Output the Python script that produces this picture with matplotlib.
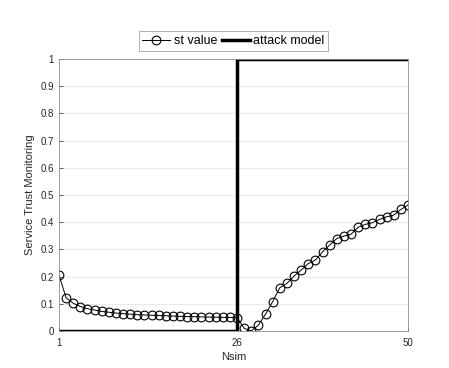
import numpy as np
import matplotlib
matplotlib.use('Agg')
from matplotlib import pyplot as plt

plt.rcParams['font.family'] = ['Liberation Sans', 'DejaVu Sans']

nsim = np.arange(1, 51)
st_value = [0.206, 0.122, 0.102, 0.090, 0.082, 0.077, 0.072, 0.069, 0.066, 0.064,
            0.062, 0.060, 0.059, 0.058, 0.057, 0.056, 0.055, 0.054, 0.053, 0.053,
            0.052, 0.051, 0.051, 0.050, 0.050, 0.049, 0.010, 0.000, 0.022, 0.062,
            0.108, 0.159, 0.175, 0.202, 0.224, 0.248, 0.261, 0.291, 0.316, 0.340,
            0.349, 0.356, 0.381, 0.392, 0.398, 0.410, 0.420, 0.426, 0.447, 0.463]
attack_x = [1, 26, 26, 50]
attack_y = [0, 0, 1, 1]
xticks = [1, 26, 50]
yticks = [0, 0.1, 0.2, 0.3, 0.4, 0.5, 0.6, 0.7, 0.8, 0.9, 1]
ytick_labels = ['0', '0.1', '0.2', '0.3', '0.4', '0.5', '0.6', '0.7', '0.8', '0.9', '1']

fig = plt.figure(figsize=(4.49, 3.68), dpi=100)
ax = fig.add_axes([59/449, 37/368, 349/449, 272/368])

ax.plot(nsim, st_value, '-o', color='black', lw=0.7, markersize=6.3,
        markerfacecolor='none', markeredgewidth=0.8, label='st value')
ax.plot(attack_x, attack_y, color='black', lw=2.5, label='attack model')

ax.set_xlim(1, 50)
ax.set_ylim(0, 1)
ax.set_xticks(xticks)
ax.set_yticks(yticks)
ax.set_yticklabels(ytick_labels)
ax.tick_params(direction='in', labelsize=7, colors='#262626', length=3, width=0.5)
ax.tick_params(axis='x', pad=5)
ax.yaxis.grid(True, color='#e6e6e6', lw=0.6)
ax.set_axisbelow(True)
for s in ax.spines.values():
    s.set_color('#8c8c8c')
    s.set_linewidth(0.6)

ax.set_xlabel('Nsim', fontsize=8, color='#262626', labelpad=3)
ax.set_ylabel('Service Trust Monitoring', fontsize=8, color='#262626', labelpad=4)

leg = ax.legend(loc='lower center', bbox_to_anchor=(0.5, 1.03), ncol=2, fontsize=9,
                frameon=True, fancybox=False, edgecolor='#8c8c8c', handlelength=2.2,
                handletextpad=0.3, columnspacing=0.4, borderpad=0.3,
                borderaxespad=0)
leg.get_frame().set_linewidth(0.6)

fig.savefig('out.png', dpi=100)
